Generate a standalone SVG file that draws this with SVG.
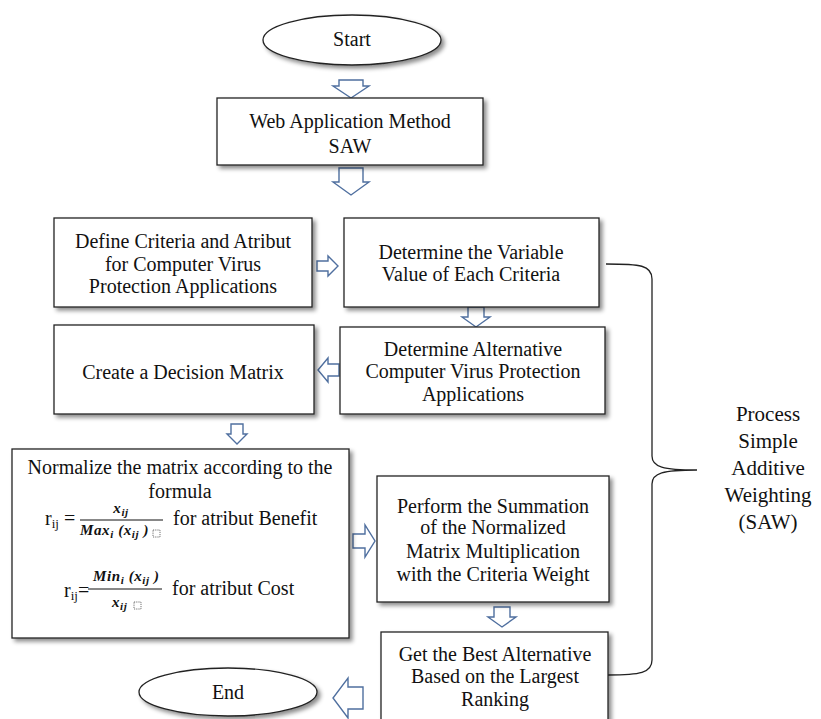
<svg xmlns="http://www.w3.org/2000/svg" width="821" height="719" viewBox="0 0 821 719">
<defs>
<filter id="sh" x="-10%" y="-10%" width="125%" height="130%">
<feDropShadow dx="3" dy="3" stdDeviation="2" flood-color="#000" flood-opacity="0.45"/>
</filter>
</defs>
<style>
.box{fill:#fff;stroke:#222;stroke-width:1.3;filter:url(#sh)}
text{font-family:'Liberation Serif','DejaVu Serif',serif}
.t{font-size:20px;fill:#111;text-anchor:middle}
.big{font-size:21px}
.m{font-style:italic;font-weight:bold;font-size:15px;fill:#111;letter-spacing:0.6px}
.ms{font-size:11px}
.ar{fill:#fff;stroke:#4f6f9f;stroke-width:1.4;stroke-linejoin:miter}
.br{fill:none;stroke:#222;stroke-width:1.3}
.ph{fill:none;stroke:#333;stroke-width:0.7;stroke-dasharray:1.2 1}
</style>
<rect width="821" height="719" fill="#fff"/>

<g id="connectors">
<path class="ar" d="M339,80 H363 V86 H369 L351,98 L333,86 H339 Z"/>
<path class="ar" d="M339,168 H363 V182 H369 L351,195 L333,182 H339 Z"/>
<path class="ar" d="M317,261 H328 V256 L338,266 L328,276 V271 H317 Z"/>
<path class="ar" d="M468,307 H484 V317 H490 L476,327 L462,317 H468 Z"/>
<path class="ar" d="M339,364 H328 V358 L318,370 L328,382 V376 H339 Z"/>
<path class="ar" d="M231,424 H243 V434 H247 L237,444 L227,434 H231 Z"/>
<path class="ar" d="M353,534 H365 V525 L375,541 L365,557 V548 H353 Z"/>
<path class="ar" d="M494,607 H510 V617 H516 L502,627 L488,617 H494 Z"/>
<path class="ar" d="M363,687 H348 V678 L333,698 L348,718 V709 H363 Z"/>
<path class="br" d="M606,264 C640,264 652,265 652,279 V456 C652,467 663,470 697,470 C663,470 652,473 652,484 V660 C652,673 640,675 608,675"/>
</g>

<g id="start">
<ellipse class="box" cx="352" cy="40" rx="89" ry="25"/>
<text class="t" x="352" y="46">Start</text>
</g>

<g id="web">
<rect class="box" x="217" y="98" width="266" height="67"/>
<text class="t" x="350" y="128">Web Application Method</text>
<text class="t" x="350" y="153">SAW</text>
</g>

<g id="define">
<rect class="box" x="54" y="218" width="258" height="89"/>
<text class="t" x="183" y="248">Define Criteria and Atribut</text>
<text class="t" x="183" y="271">for Computer Virus</text>
<text class="t" x="183" y="293">Protection Applications</text>
</g>

<g id="variable">
<rect class="box" x="344" y="218" width="255" height="89"/>
<text class="t" x="471" y="259">Determine the Variable</text>
<text class="t" x="471" y="281">Value of Each Criteria</text>
</g>

<g id="create">
<rect class="box" x="54" y="325" width="260" height="89"/>
<text class="t" x="183" y="379">Create a Decision Matrix</text>
</g>

<g id="alternative">
<rect class="box" x="340" y="327" width="265" height="87"/>
<text class="t" x="473" y="356">Determine Alternative</text>
<text class="t" x="473" y="378">Computer Virus Protection</text>
<text class="t" x="473" y="401">Applications</text>
</g>

<g id="normalize">
<rect class="box" x="12" y="449" width="337" height="189"/>
<text class="t" x="180" y="474">Normalize the matrix according to the</text>
<text class="t" x="180" y="498">formula</text>
<text class="t" x="45" y="525" style="text-anchor:start">r<tspan font-size="13" dy="3">ij</tspan><tspan dy="-3"> =</tspan></text>
<text class="m" x="121" y="513" text-anchor="middle">x<tspan class="ms" dy="3">ij</tspan></text>
<line x1="80" y1="520" x2="163" y2="520" stroke="#111" stroke-width="1"/>
<text class="m" x="80" y="535">Max<tspan class="ms" dy="3">i</tspan><tspan dy="-3"> (x</tspan><tspan class="ms" dy="3">ij</tspan><tspan dy="-3"> )</tspan></text>
<rect class="ph" x="153" y="530" width="7" height="7"/>
<text class="t" x="173" y="525" style="text-anchor:start">for atribut Benefit</text>
<text class="t" x="64" y="597" style="text-anchor:start">r<tspan font-size="13" dy="3">ij</tspan><tspan dy="-3">=</tspan></text>
<text class="m" x="93" y="581">Min<tspan class="ms" dy="3">i</tspan><tspan dy="-3"> (x</tspan><tspan class="ms" dy="3">ij</tspan><tspan dy="-3"> )</tspan></text>
<line x1="88" y1="589" x2="162" y2="589" stroke="#111" stroke-width="1"/>
<text class="m" x="112" y="607">x<tspan class="ms" dy="3">ij</tspan></text>
<rect class="ph" x="134" y="602" width="7" height="7"/>
<text class="t" x="172" y="595" style="text-anchor:start">for atribut Cost</text>
</g>

<g id="perform">
<rect class="box" x="377" y="476" width="232" height="126"/>
<text class="t" x="493" y="513">Perform the Summation</text>
<text class="t" x="493" y="534">of the Normalized</text>
<text class="t" x="493" y="558">Matrix Multiplication</text>
<text class="t" x="493" y="581">with the Criteria Weight</text>
</g>

<g id="best">
<rect class="box" x="381" y="632" width="227" height="100"/>
<text class="t" x="495" y="661">Get the Best Alternative</text>
<text class="t" x="495" y="683">Based on the Largest</text>
<text class="t" x="495" y="706">Ranking</text>
</g>

<g id="end">
<ellipse class="box" cx="228" cy="692" rx="89" ry="24"/>
<text class="t" x="228" y="699">End</text>
</g>

<g id="process-label">
<text class="t big" x="768" y="421">Process</text>
<text class="t big" x="768" y="448">Simple</text>
<text class="t big" x="768" y="475">Additive</text>
<text class="t big" x="768" y="502">Weighting</text>
<text class="t big" x="768" y="529">(SAW)</text>
</g>
</svg>
